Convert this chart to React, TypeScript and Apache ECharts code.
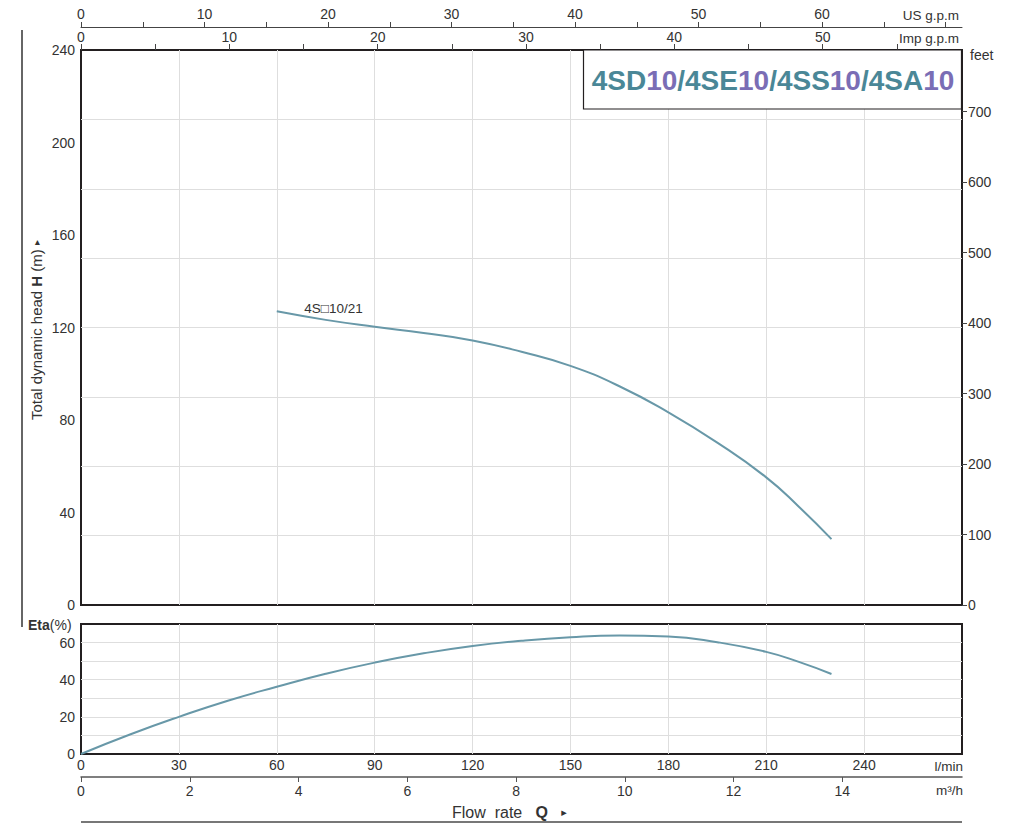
import React, { useEffect, useRef } from "react";
import * as echarts from "echarts";

// ---- Data ----
const headFlow = [60, 75, 90, 105, 120, 135, 150, 165, 180, 195, 210, 220, 230]; // l/min
const headValues = [127, 123.3, 120.3, 117.6, 114.4, 109.5, 103.4, 94.6, 83.3, 70.2, 55.2, 42.5, 28.5]; // m
const etaFlow = [0, 15, 30, 45, 60, 75, 90, 105, 120, 135, 150, 165, 180, 195, 210, 220, 230]; // l/min
const etaValues = [0, 10.5, 20, 28.7, 36.2, 43.2, 49.2, 54.2, 58.2, 61.0, 62.9, 63.8, 63.3, 60.2, 55.0, 49.6, 43.1]; // %
const curveName = "4S□10/21";

// ---- Tick values ----
const lminLabels = [0, 30, 60, 90, 120, 150, 180, 210, 240];
const m3hTicks = [0, 2, 4, 6, 8, 10, 12, 14];
const usGpmTicks = [0, 5, 10, 15, 20, 25, 30, 35, 40, 45, 50, 55, 60, 65, 70];
const usGpmLabels = [0, 10, 20, 30, 40, 50, 60];
const impGpmTicks = [0, 5, 10, 15, 20, 25, 30, 35, 40, 45, 50, 55];
const impGpmLabels = [0, 10, 20, 30, 40, 50];
const headLabels = [0, 40, 80, 120, 160, 200, 240];
const feetLabels = [0, 100, 200, 300, 400, 500, 600, 700];
const etaLabels = [0, 20, 40, 60];

// ---- Scale constants ----
const FLOW_MAX = 270; // l/min
const HEAD_MAX = 240; // m
const ETA_MAX = 70; // %
const L_PER_USGAL = 3.78541;
const L_PER_IMPGAL = 4.54609;
const FT_PER_M = 3.28084;
const LMIN_PER_M3H = 1000 / 60;

const FONT = "'Liberation Sans', Arial, 'DejaVu Sans', sans-serif";
const TXT = "#333333";
const FRAME = "#231f20";
const GRIDC = "#dedede";
const CURVE = "#6898a8";
const TEAL = "#4a8797";
const PURPLE = "#7a6db5";

export default function App() {
  const ref = useRef<HTMLDivElement>(null);

  useEffect(() => {
    if (!ref.current) return;
    const chart = echarts.init(ref.current, null, { renderer: "svg" });

    const lbl = { color: TXT, fontSize: 14, fontFamily: FONT };
    const noLine = { show: false, onZero: false };

    const option: any = {
      animation: false,
      backgroundColor: "#ffffff",
      textStyle: { fontFamily: FONT },
      grid: [
        { left: 81, top: 50, width: 881, height: 555, show: true, borderColor: FRAME, borderWidth: 2, backgroundColor: "transparent" },
        { left: 81, top: 624, width: 881, height: 130, show: true, borderColor: FRAME, borderWidth: 2, backgroundColor: "transparent" },
      ],
      xAxis: [
        // 0: head grid, l/min grid lines
        {
          gridIndex: 0, type: "value", min: 0, max: FLOW_MAX, interval: 30, position: "bottom",
          axisLine: noLine, axisTick: { show: false }, axisLabel: { show: false },
          splitLine: { show: true, showMinLine: false, showMaxLine: false, lineStyle: { color: GRIDC, width: 1 } },
        },
        // 1: US gpm (top)
        {
          gridIndex: 0, type: "value", min: 0, max: FLOW_MAX / L_PER_USGAL, position: "top", offset: 23,
          axisLine: { show: true, onZero: false, lineStyle: { color: "#444", width: 1 } },
          axisTick: { show: true, customValues: usGpmTicks, length: 5, lineStyle: { color: "#444" } },
          axisLabel: { ...lbl, customValues: usGpmLabels, margin: 6 },
          splitLine: { show: false },
        },
        // 2: Imp gpm (top, on frame)
        {
          gridIndex: 0, type: "value", min: 0, max: FLOW_MAX / L_PER_IMPGAL, position: "top", offset: 0,
          axisLine: noLine,
          axisTick: { show: true, customValues: impGpmTicks, length: 6, lineStyle: { color: "#444" } },
          axisLabel: { ...lbl, customValues: impGpmLabels, margin: 6 },
          splitLine: { show: false },
        },
        // 3: eta grid, l/min
        {
          gridIndex: 1, type: "value", min: 0, max: FLOW_MAX, interval: 30, position: "bottom",
          axisLine: noLine, axisTick: { show: false },
          axisLabel: { ...lbl, customValues: lminLabels, margin: 4 },
          splitLine: { show: true, showMinLine: false, showMaxLine: false, lineStyle: { color: GRIDC, width: 1 } },
        },
        // 4: m3/h
        {
          gridIndex: 1, type: "value", min: 0, max: FLOW_MAX / LMIN_PER_M3H, position: "bottom", offset: 23,
          axisLine: { show: true, onZero: false, lineStyle: { color: "#555", width: 1.5 } },
          axisTick: { show: true, customValues: m3hTicks, length: 5, lineStyle: { color: "#555" } },
          axisLabel: { ...lbl, customValues: m3hTicks, margin: 7 },
          splitLine: { show: false },
        },
      ],
      yAxis: [
        // 0: head labels
        {
          gridIndex: 0, type: "value", min: 0, max: HEAD_MAX, position: "left",
          axisLine: noLine, axisTick: { show: false },
          axisLabel: { ...lbl, customValues: headLabels, margin: 6 },
          splitLine: { show: false },
        },
        // 1: head grid lines (every 30 m)
        {
          gridIndex: 0, type: "value", min: 0, max: HEAD_MAX, interval: 30, position: "left",
          axisLine: noLine, axisTick: { show: false }, axisLabel: { show: false },
          splitLine: { show: true, showMinLine: false, showMaxLine: false, lineStyle: { color: GRIDC, width: 1 } },
        },
        // 2: feet
        {
          gridIndex: 0, type: "value", min: 0, max: HEAD_MAX * FT_PER_M, position: "right",
          axisLine: noLine,
          axisTick: { show: true, customValues: feetLabels, length: 5, lineStyle: { color: "#444" } },
          axisLabel: { ...lbl, customValues: feetLabels, margin: 6 },
          splitLine: { show: false },
        },
        // 3: eta grid lines
        {
          gridIndex: 1, type: "value", min: 0, max: ETA_MAX, interval: 10, position: "left",
          axisLine: noLine, axisTick: { show: false }, axisLabel: { show: false },
          splitLine: { show: true, showMinLine: false, showMaxLine: false, lineStyle: { color: GRIDC, width: 1 } },
        },
        // 4: eta labels
        {
          gridIndex: 1, type: "value", min: 0, max: ETA_MAX, position: "left",
          axisLine: noLine, axisTick: { show: false },
          axisLabel: { ...lbl, customValues: etaLabels, margin: 6 },
          splitLine: { show: false },
        },
      ],
      series: [
        {
          type: "line", name: curveName, xAxisIndex: 0, yAxisIndex: 1,
          data: headFlow.map((q, i) => [q, headValues[i]]),
          smooth: 0.5, showSymbol: false, symbol: "none",
          lineStyle: { color: CURVE, width: 2 }, z: 5,
          markPoint: {
            symbol: "circle", symbolSize: 1,
            itemStyle: { color: "transparent" },
            label: { show: true, position: "right", offset: [22, -3], formatter: curveName, color: TXT, fontSize: 13.5, fontFamily: FONT },
            data: [{ coord: [headFlow[0], headValues[0]] }],
          },
        },
        {
          type: "line", name: "Eta", xAxisIndex: 3, yAxisIndex: 3,
          data: etaFlow.map((q, i) => [q, etaValues[i]]),
          smooth: 0.5, showSymbol: false, symbol: "none",
          lineStyle: { color: CURVE, width: 2 }, z: 5,
        },
      ],
      graphic: [
        { type: "line", z: 10, shape: { x1: 22, y1: 30, x2: 22, y2: 627 }, style: { stroke: "#666", lineWidth: 2 } },
        { type: "line", z: 10, shape: { x1: 81, y1: 822, x2: 962, y2: 822 }, style: { stroke: "#777", lineWidth: 2 } },
        { type: "rect", z: 10, shape: { x: 583.5, y: 50, width: 378, height: 59 }, style: { fill: "#ffffff", stroke: FRAME, lineWidth: 1.2 } },
        {
          type: "text", z: 11, x: 773, y: 80,
          style: {
            text: "{t|4SD}{p|10}{t|/4SE}{p|10}{t|/4SS}{p|10}{t|/4SA}{p|10}",
            align: "center", verticalAlign: "middle",
            rich: {
              t: { fill: TEAL, fontSize: 28, fontWeight: "bold", fontFamily: FONT },
              p: { fill: PURPLE, fontSize: 28, fontWeight: "bold", fontFamily: FONT },
            },
          },
        },
        { type: "text", z: 11, x: 959, y: 15, style: { text: "US g.p.m", align: "right", verticalAlign: "middle", fill: TXT, fontSize: 13.5, fontFamily: FONT } },
        { type: "text", z: 11, x: 959, y: 38, style: { text: "Imp g.p.m", align: "right", verticalAlign: "middle", fill: TXT, fontSize: 13.5, fontFamily: FONT } },
        { type: "text", z: 11, x: 970, y: 55, style: { text: "feet", align: "left", verticalAlign: "middle", fill: TXT, fontSize: 14, fontFamily: FONT } },
        { type: "text", z: 11, x: 963, y: 766, style: { text: "l/min", align: "right", verticalAlign: "middle", fill: TXT, fontSize: 13.5, fontFamily: FONT } },
        { type: "text", z: 11, x: 963, y: 790, style: { text: "m³/h", align: "right", verticalAlign: "middle", fill: TXT, fontSize: 13.5, fontFamily: FONT } },
        {
          type: "text", z: 11, x: 28, y: 625,
          style: {
            text: "{b|Eta}{n|(%)}", align: "left", verticalAlign: "middle",
            rich: {
              b: { fill: TXT, fontSize: 14, fontWeight: "bold", fontFamily: FONT },
              n: { fill: TXT, fontSize: 14, fontFamily: FONT },
            },
          },
        },
        {
          type: "text", z: 11, x: 452, y: 812,
          style: {
            text: "{n|Flow  rate   }{b|Q}{n|   }{s|▸}", align: "left", verticalAlign: "middle",
            rich: {
              n: { fill: TXT, fontSize: 16, fontFamily: FONT },
              b: { fill: TXT, fontSize: 16, fontWeight: "bold", fontFamily: FONT },
              s: { fill: TXT, fontSize: 11, fontFamily: "'DejaVu Sans', sans-serif" },
            },
          },
        },
        {
          type: "text", z: 11, x: 36, y: 330, rotation: Math.PI / 2,
          style: {
            text: "{n|Total dynamic head }{b|H}{n| (m) }{s|▸}", align: "center", verticalAlign: "middle",
            rich: {
              n: { fill: TXT, fontSize: 15, fontFamily: FONT },
              b: { fill: TXT, fontSize: 15, fontWeight: "bold", fontFamily: FONT },
              s: { fill: TXT, fontSize: 10, fontFamily: "'DejaVu Sans', sans-serif" },
            },
          },
        },
      ],
    };

    chart.setOption(option);
    return () => chart.dispose();
  }, []);

  return (
    <div
      ref={ref}
      style={{ position: "absolute", left: 0, top: 0, width: 1024, height: 826, background: "#fff" }}
    />
  );
}
